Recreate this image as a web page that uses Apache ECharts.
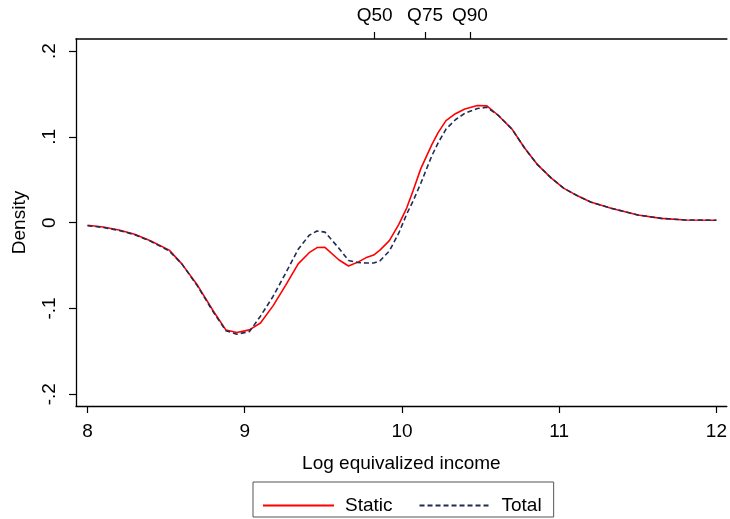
<!DOCTYPE html>
<html>
<head>
<meta charset="utf-8">
<script src="https://cdn.jsdelivr.net/npm/echarts@6/dist/echarts.min.js"></script>
<style>
html,body{margin:0;padding:0;background:#fff;}
#chart{width:730px;height:519px;}
</style>
</head>
<body>
<div id="chart"></div>
<script>
// Log equivalized income grid
const incomeX = [8.0, 8.1, 8.2, 8.3, 8.4, 8.52, 8.6, 8.7, 8.8, 8.88, 8.95, 9.03, 9.1, 9.18, 9.26, 9.34, 9.41, 9.46, 9.51, 9.6, 9.66, 9.72, 9.77, 9.82, 9.86, 9.92, 9.98, 10.03, 10.07, 10.12, 10.19, 10.23, 10.28, 10.34, 10.4, 10.48, 10.54, 10.61, 10.7, 10.78, 10.86, 10.95, 11.03, 11.12, 11.2, 11.33, 11.5, 11.65, 11.8, 12.0];
// Density difference, Static
const staticY = [-0.003, -0.005, -0.0085, -0.0135, -0.021, -0.032, -0.048, -0.073, -0.103, -0.125, -0.128, -0.125, -0.117, -0.097, -0.073, -0.048, -0.035, -0.029, -0.0287, -0.0435, -0.0505, -0.046, -0.041, -0.0377, -0.032, -0.021, -0.002, 0.017, 0.037, 0.063, 0.091, 0.105, 0.119, 0.127, 0.1325, 0.1365, 0.1362, 0.1255, 0.109, 0.087, 0.068, 0.052, 0.040, 0.031, 0.024, 0.0168, 0.009, 0.005, 0.0032, 0.0028];
// Density difference, Total
const totalY = [-0.0035, -0.0055, -0.009, -0.014, -0.0215, -0.033, -0.048, -0.074, -0.104, -0.126, -0.130, -0.127, -0.109, -0.086, -0.059, -0.031, -0.0147, -0.0097, -0.011, -0.030, -0.044, -0.0465, -0.047, -0.047, -0.0445, -0.033, -0.012, 0.010, 0.025, 0.046, 0.078, 0.093, 0.109, 0.120, 0.1275, 0.133, 0.1345, 0.1255, 0.109, 0.087, 0.068, 0.052, 0.040, 0.031, 0.024, 0.0168, 0.009, 0.005, 0.0032, 0.0028];
// Axis ticks
const xTicks = [8, 9, 10, 11, 12];
const yTickVals = [-0.2, -0.1, 0, 0.1, 0.2];
const yTickLabels = ['-.2', '-.1', '0', '.1', '.2'];
const qVals = [9.826, 10.147, 10.432];
const qLabels = ['Q50', 'Q75', 'Q90'];
const seriesNames = ['Static', 'Total'];

function pick(vals, labels, v) {
  for (let i = 0; i < vals.length; i++) if (Math.abs(vals[i] - v) < 1e-6) return labels[i];
  return '';
}

const FONT = 'Liberation Sans, Arial, sans-serif';
const XMIN = 7.927, XMAX = 12.066;
const axisLineStyle = { color: '#000', width: 1.3 };

const chart = echarts.init(document.getElementById('chart'), null, { renderer: 'canvas' });
chart.setOption({
  animation: false,
  backgroundColor: '#fff',
  textStyle: { fontFamily: FONT },
  grid: { left: 76, right: 0, top: 39, bottom: 113, containLabel: false },
  xAxis: [
    {
      type: 'value', position: 'bottom', min: XMIN, max: XMAX,
      name: 'Log equivalized income', nameLocation: 'middle', nameGap: 48,
      nameTextStyle: { fontSize: 19, color: '#000', fontFamily: FONT },
      axisLine: { show: true, onZero: false, lineStyle: axisLineStyle },
      axisTick: { show: true, length: 7, customValues: xTicks, lineStyle: { color: '#000', width: 1.2 } },
      axisLabel: { customValues: xTicks, fontSize: 19, color: '#000', margin: 16, fontFamily: FONT },
      splitLine: { show: false }
    },
    {
      type: 'value', position: 'top', min: XMIN, max: XMAX,
      axisLine: { show: true, onZero: false, lineStyle: { color: '#000', width: 1.6 } },
      axisTick: { show: true, length: 7, customValues: qVals, lineStyle: { color: '#000', width: 1.2 } },
      axisLabel: { customValues: qVals, fontSize: 19, color: '#000', margin: 14, fontFamily: FONT,
        formatter: v => pick(qVals, qLabels, v) },
      splitLine: { show: false }
    }
  ],
  yAxis: {
    type: 'value', min: -0.2137, max: 0.2141,
    name: 'Density', nameLocation: 'middle', nameGap: 47,
    nameTextStyle: { fontSize: 19, color: '#000', fontFamily: FONT },
    axisLine: { show: true, onZero: false, lineStyle: axisLineStyle },
    axisTick: { show: true, length: 7, customValues: yTickVals, lineStyle: { color: '#000', width: 1.2 } },
    axisLabel: { customValues: yTickVals, rotate: 90, fontSize: 19, color: '#000', margin: 17, fontFamily: FONT,
      formatter: v => pick(yTickVals, yTickLabels, v) },
    splitLine: { show: false }
  },
  legend: {
    left: 253, top: 482,
    data: seriesNames,
    padding: [14, 12, 2, 9],
    itemGap: 26,
    itemWidth: 71, itemHeight: 20,
    borderColor: '#555', borderWidth: 1, borderRadius: 0,
    itemStyle: { opacity: 0 },
    textStyle: { fontSize: 19, color: '#000', fontFamily: FONT, padding: [0, 0, 0, 6] }
  },
  series: [
    {
      name: seriesNames[0], type: 'line', xAxisIndex: 0, showSymbol: false, symbol: 'none',
      data: incomeX.map((x, i) => [x, staticY[i]]),
      lineStyle: { color: '#ff0000', width: 1.6 }, itemStyle: { color: '#ff0000' }
    },
    {
      name: seriesNames[1], type: 'line', xAxisIndex: 0, showSymbol: false, symbol: 'none',
      data: incomeX.map((x, i) => [x, totalY[i]]),
      lineStyle: { color: '#1f2d55', width: 1.6, type: [5, 3] }, itemStyle: { color: '#1f2d55' }
    }
  ]
});
</script>
</body>
</html>
